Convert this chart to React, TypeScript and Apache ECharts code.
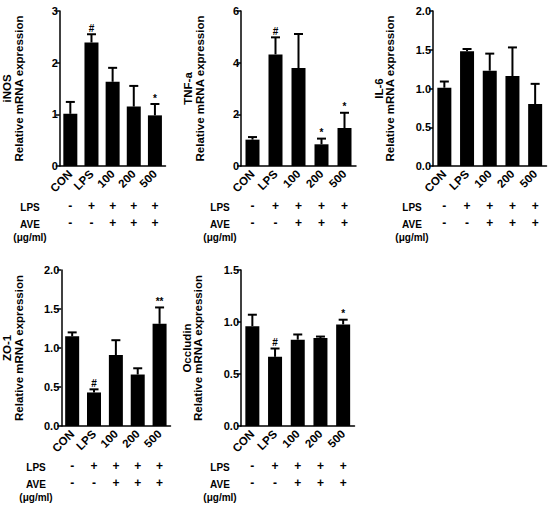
import React, { useEffect, useRef } from 'react';
import * as echarts from 'echarts';

// Treatment groups and the two rows of the treatment table
const categories = ['CON', 'LPS', '100', '200', '500'];
const lpsRow = ['-', '+', '+', '+', '+'];
const aveRow = ['-', '-', '+', '+', '+'];

// Relative mRNA expression (mean and upper error) per gene
const inosMean = [1.01, 2.39, 1.63, 1.15, 0.98];
const inosErr = [0.23, 0.16, 0.27, 0.4, 0.22];
const inosSig = ['', '#', '', '', '*'];

const tnfMean = [1.02, 4.32, 3.79, 0.84, 1.47];
const tnfErr = [0.1, 0.66, 1.32, 0.22, 0.59];
const tnfSig = ['', '#', '', '*', '*'];

const il6Mean = [1.01, 1.48, 1.23, 1.16, 0.8];
const il6Err = [0.08, 0.03, 0.22, 0.37, 0.26];
const il6Sig = ['', '', '', '', ''];

const zo1Mean = [1.15, 0.43, 0.91, 0.66, 1.31];
const zo1Err = [0.05, 0.04, 0.19, 0.08, 0.21];
const zo1Sig = ['', '#', '', '', '**'];

const occMean = [0.96, 0.665, 0.83, 0.845, 0.977];
const occErr = [0.11, 0.08, 0.05, 0.015, 0.045];
const occSig = ['', '#', '', '', '*'];

// Y axis tick settings
const yMax = [3, 6, 2, 2, 1.5];
const yInterval = [1, 2, 0.5, 0.5, 0.5];
const yDecimals = [0, 0, 1, 1, 1];

const genes = ['iNOS', 'TNF-a', 'IL-6', 'ZO-1', 'Occludin'];
const means = [inosMean, tnfMean, il6Mean, zo1Mean, occMean];
const errs = [inosErr, tnfErr, il6Err, zo1Err, occErr];
const sigs = [inosSig, tnfSig, il6Sig, zo1Sig, occSig];

// Panel placement on the page
const boxes = [
  { left: 51, top: 11, width: 114.5, height: 155, gap: 35.5 },
  { left: 241, top: 11, width: 115, height: 155, gap: 35.5 },
  { left: 433, top: 11, width: 113.5, height: 155, gap: 37 },
  { left: 57, top: 270, width: 113.5, height: 156, gap: 37 },
  { left: 241, top: 270, width: 113.5, height: 156, gap: 37 },
];

const FONT = '"Liberation Sans", Arial, sans-serif';

export default function App() {
  const ref = useRef<HTMLDivElement>(null);

  useEffect(() => {
    if (!ref.current) return;
    const chart = echarts.init(ref.current, undefined, { renderer: 'svg' });

    const grid: any[] = [];
    const xAxis: any[] = [];
    const yAxis: any[] = [];
    const series: any[] = [];
    const graphic: any[] = [];

    boxes.forEach((b, k) => {
      grid.push({ left: b.left, top: b.top, width: b.width, height: b.height, containLabel: false });

      xAxis.push({
        type: 'category',
        gridIndex: k,
        data: categories,
        axisLine: { show: true, lineStyle: { color: '#000', width: 1.5 } },
        axisTick: { show: false },
        axisLabel: {
          interval: 0,
          rotate: 45,
          margin: 6,
          color: '#000',
          fontFamily: FONT,
          fontWeight: 'bold',
          fontSize: 11.5,
        },
      });
      [lpsRow, aveRow].forEach((row, r) => {
        xAxis.push({
          type: 'category',
          gridIndex: k,
          data: categories,
          position: 'bottom',
          offset: r === 0 ? 34 : 51,
          axisLine: { show: false },
          axisTick: { show: false },
          axisLabel: {
            interval: 0,
            margin: 0,
            color: '#000',
            fontFamily: FONT,
            fontWeight: 'bold',
            fontSize: 12,
            formatter: (_v: string, idx: number) => row[idx],
          },
        });
      });

      yAxis.push({
        type: 'value',
        gridIndex: k,
        min: 0,
        max: yMax[k],
        interval: yInterval[k],
        name: genes[k] + '\nRelative mRNA expression',
        nameLocation: 'middle',
        nameGap: b.gap,
        nameTextStyle: {
          color: '#000',
          fontFamily: FONT,
          fontWeight: 'bold',
          fontSize: 11.5,
          lineHeight: 11.5,
        },
        axisLine: { show: true, lineStyle: { color: '#000', width: 1.5 } },
        axisTick: { show: true, length: 4, lineStyle: { color: '#000', width: 1.5 } },
        splitLine: { show: false },
        axisLabel: {
          margin: 2,
          color: '#000',
          fontFamily: FONT,
          fontWeight: 'bold',
          fontSize: 11,
          formatter: (v: number) => v.toFixed(yDecimals[k]),
        },
      });

      series.push({
        type: 'bar',
        xAxisIndex: k * 3,
        yAxisIndex: k,
        data: means[k],
        barWidth: 14,
        itemStyle: { color: '#000' },
        z: 2,
      });

      const sigArr = sigs[k];
      series.push({
        type: 'custom',
        xAxisIndex: k * 3,
        yAxisIndex: k,
        clip: false,
        z: 3,
        itemStyle: { color: '#000' },
        data: means[k].map((m, i) => [i, m, errs[k][i]]),
        renderItem: (params: any, api: any) => {
          const i = api.value(0);
          const m = api.value(1);
          const e = api.value(2);
          const base = api.coord([i, m]);
          const hi = api.coord([i, m + e]);
          const stroke = { stroke: '#000', lineWidth: 2 };
          const children: any[] = [
            { type: 'line', shape: { x1: base[0], y1: base[1], x2: hi[0], y2: hi[1] }, style: stroke },
            { type: 'line', shape: { x1: hi[0] - 4.5, y1: hi[1], x2: hi[0] + 4.5, y2: hi[1] }, style: stroke },
          ];
          const s = sigArr[params.dataIndex];
          if (s) {
            children.push({
              type: 'text',
              style: {
                text: s,
                x: hi[0],
                y: hi[1] - 1,
                align: 'center',
                verticalAlign: 'bottom',
                fill: '#000',
                stroke: 'none',
                fontFamily: FONT,
                fontWeight: 'bold',
                fontSize: 10,
              },
            });
          }
          return { type: 'group', children };
        },
      });

      const axisY = b.top + b.height;
      const cx = b.left - 21;
      [
        { t: 'LPS', dy: 41 },
        { t: 'AVE', dy: 58 },
        { t: '(\u03bcg/ml)', dy: 71 },
      ].forEach((row) => {
        graphic.push({
          type: 'text',
          x: cx,
          y: axisY + row.dy,
          style: {
            text: row.t,
            align: 'center',
            verticalAlign: 'middle',
            fill: '#000',
            fontFamily: FONT,
            fontWeight: 'bold',
            fontSize: 10,
          },
        });
      });
    });

    chart.setOption({
      animation: false,
      backgroundColor: '#fff',
      grid,
      xAxis,
      yAxis,
      series,
      graphic,
    });

    return () => chart.dispose();
  }, []);

  return (
    <div
      ref={ref}
      style={{ position: 'fixed', left: 0, top: 0, width: 551, height: 507, background: '#fff' }}
    />
  );
}
